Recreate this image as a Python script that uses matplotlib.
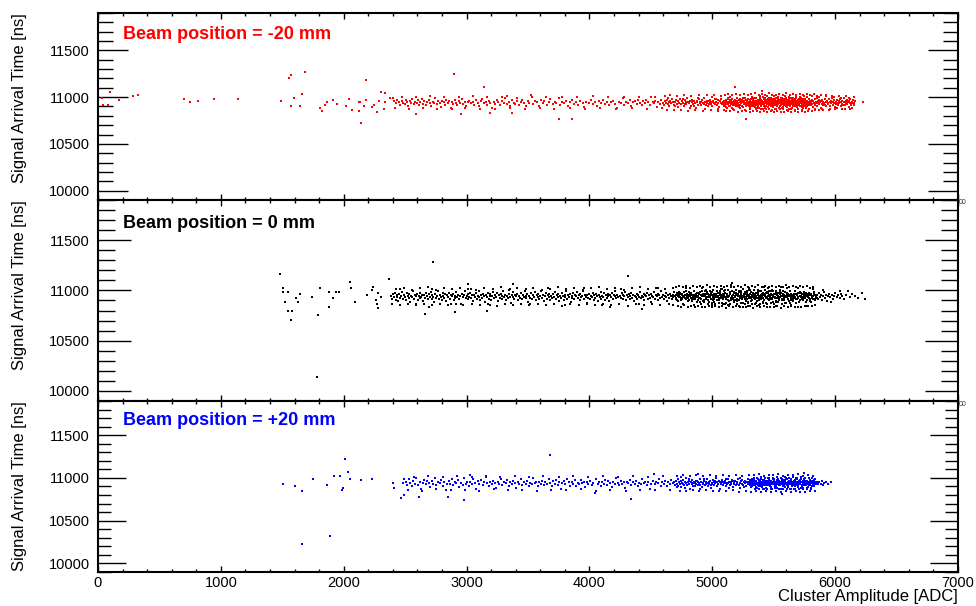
import matplotlib.pyplot as plt
from matplotlib.ticker import MultipleLocator

# (Cluster Amplitude [ADC], Signal Arrival Time [ns])
red_points = [
    (0,10970),(30,10990),(43,10918),(79,10918),(95,11057),(174,10968),(282,11011),(323,11025),
    (697,10979),(751,10947),(814,10957),(944,10975),(1137,10975),(1142,10980),(1490,10954),(1555,11200),
    (1573,11232),(1682,11267),(1595,10990),(1571,10907),(1644,10907),(1663,11036),(1804,10882),(1823,10854),
    (1848,10914),(1866,10946),(1915,10968),(1943,10928),(2021,10907),(2043,10975),(2065,10857),(2124,10946),
    (2134,10946),(2124,10850),(2138,10718),(2179,11182),(2162,10907),(2184,10968),(2227,10896),(2249,10921),
    (2271,10846),(2288,10960),(2304,11053),(2334,11046),(2325,10871),(2334,10950),(2377,10990),(2398,10990),
    (2586,10815),(2898,11250),(3139,11110),(2952,10818),(3188,10832),(3332,11014),(3527,11028),(3368,10832),
    (3755,10761),(3861,10768),(5277,10765),(6230,10950),(5182,11104),(5402,11064),
    # 2400 - 3600
    (2410,10958),(2425,10932),(2438,10971),(2450,10945),(2462,10912),(2471,10960),(2485,10938),(2496,10925),
    (2508,10966),(2515,10948),(2527,10903),(2536,10955),(2548,10940),(2560,10978),(2569,10927),(2581,10951),
    (2594,10935),(2603,10968),(2615,10912),(2624,10945),(2636,10985),(2648,10930),(2657,10957),(2669,10921),
    (2680,10948),(2692,10969),(2703,10936),(2714,10905),(2726,10952),(2738,10940),(2747,10990),(2758,10926),
    (2770,10958),(2781,10934),(2790,10898),(2802,10962),(2814,10945),(2825,10918),(2836,10972),(2847,10940),
    (2858,10955),(2870,10887),(2881,10948),(2893,10930),(2904,10965),(2915,10942),(2926,10915),(2938,10958),
    (2947,10936),(2960,10975),(2972,10925),(2985,10950),(2998,10904),(3010,10945),(3024,10963),(3037,10932),
    (3050,10952),(3062,10920),(3078,10968),(3090,10941),(3103,10910),(3117,10955),(3128,10982),(3142,10936),
    (3155,10948),(3168,10920),(3180,10962),(3194,10940),(3207,10885),(3220,10952),(3233,10930),(3247,10970),
    (3260,10945),(3273,10913),(3288,10958),(3301,10938),(3315,10995),(3328,10924),(3342,10950),(3355,10902),
    (3370,10966),(3384,10941),(3398,10928),(3411,10958),(3425,10915),(3440,10947),(3454,10970),(3468,10935),
    (3483,10908),(3497,10955),(3511,10940),(3540,10922),(3556,10962),(3571,10945),(3588,10910),(3603,10968),
    # 3600 - 4600
    (3620,10935),(3634,10958),(3652,10912),(3668,10947),(3683,10976),(3700,10925),(3716,10952),(3731,10938),
    (3749,10990),(3764,10915),(3780,10950),(3795,10932),(3812,10962),(3828,10905),(3845,10944),(3861,10972),
    (3878,10928),(3894,10950),(3910,10918),(3927,10958),(3944,10940),(3960,10897),(3976,10953),(3993,10932),
    (4010,10965),(4027,10922),(4044,10946),(4061,10908),(4078,10958),(4095,10937),(4112,10970),(4128,10925),
    (4145,10950),(4160,10915),(4176,10945),(4192,10962),(4208,10930),(4224,10880),(4240,10952),(4255,10940),
    (4270,10992),(4285,10918),(4300,10948),(4314,10932),(4328,10965),(4342,10903),(4356,10945),(4370,10958),
    (4384,10925),(4398,10974),(4412,10940),(4425,10912),(4438,10955),(4451,10932),(4464,10968),(4477,10945),
    (4490,10920),(4502,11005),(4514,10950),(4526,10935),(4538,10960),(4550,10898),(4562,10945),(4574,10930),
    (4586,10972),(4598,10940),
    # 4600 - 5100
    (4605,10918),(4612,10955),(4620,10940),(4628,10972),(4636,10925),(4644,10948),(4651,10903),(4658,10962),
    (4666,10935),(4673,10985),(4681,10950),(4688,10920),(4696,10945),(4703,10968),(4710,10930),(4718,10955),
    (4725,10890),(4733,10942),(4740,10975),(4747,10927),(4754,10958),(4762,10938),(4769,10910),(4776,10965),
    (4783,10946),(4790,10922),(4797,10990),(4804,10950),(4811,10932),(4818,10960),(4825,10905),(4832,10944),
    (4839,10972),(4845,10925),(4852,10955),(4858,10938),(4865,10880),(4872,10962),(4878,10945),(4885,10918),
    (4891,10978),(4898,10935),(4904,10952),(4911,10912),(4917,10965),(4923,10940),(4930,10928),(4936,10995),
    (4942,10947),(4948,10920),(4954,10960),(4960,10935),(4966,10900),(4972,10955),(4978,10943),(4984,10972),
    (4990,10925),(4996,10950),(5002,10910),(5008,10962),(5014,10938),(5020,10985),(5026,10930),(5032,10952),
    (5038,10918),(5044,10968),(5050,10942),(5056,10895),(5062,10958),(5068,10935),(5074,10975),(5080,10922),
    (5086,10948),(5092,10905),(5098,10962),(4640,10990),(4700,10900),(4760,10985),(4820,10880),(4880,10995),
    (4940,10870),(5000,11000),(5050,10870),(4720,10963),(4780,10930),(4850,10910),(4910,10948),(4970,10925),
    (5030,10978),(5090,10930),
    # 5100 - 5300
    (5100,10940),(5104,10912),(5108,10968),(5112,10930),(5116,10955),(5120,10885),(5124,10945),(5128,10975),
    (5132,10922),(5136,10950),(5140,10935),(5144,11002),(5148,10908),(5152,10960),(5156,10940),(5160,10925),
    (5164,10985),(5168,10948),(5172,10870),(5176,10932),(5180,10958),(5184,10915),(5188,10970),(5192,10942),
    (5196,10928),(5200,10995),(5204,10952),(5208,10905),(5212,10938),(5216,10965),(5220,10920),(5224,10948),
    (5228,10880),(5232,10972),(5236,10935),(5240,10958),(5244,10910),(5248,10945),(5252,10988),(5256,10926),
    (5260,10955),(5264,10940),(5268,10862),(5272,10967),(5276,10930),(5280,10950),(5284,10915),(5288,10978),
    (5292,10942),(5296,10900),(5102,10958),(5110,10895),(5118,10925),(5126,10990),(5134,10905),(5142,10965),
    (5150,10930),(5158,10880),(5166,10918),(5174,10962),(5182,10945),(5190,10900),(5198,10960),(5206,10928),
    (5214,10890),(5222,10982),(5230,10915),(5238,10945),(5246,10970),(5254,10898),(5262,10932),(5270,10990),
    (5278,10908),(5286,10955),(5294,10925),
    # 5300 - 5800
    (5300,10945),(5304,10918),(5308,10962),(5312,10930),(5316,10985),(5320,10908),(5324,10952),(5328,10938),
    (5332,10972),(5336,10920),(5340,10948),(5344,10895),(5348,10960),(5352,10935),(5356,10990),(5360,10915),
    (5364,10950),(5368,10928),(5372,10968),(5376,10942),(5380,10880),(5384,10955),(5388,10925),(5392,10975),
    (5396,10938),(5400,10910),(5404,10958),(5408,10945),(5412,11005),(5416,10922),(5420,10950),(5424,10902),
    (5428,10965),(5432,10932),(5436,10948),(5440,10870),(5444,10960),(5448,10928),(5452,10982),(5456,10940),
    (5460,10915),(5464,10955),(5468,10935),(5472,10972),(5476,10905),(5480,10945),(5484,10925),(5488,10962),
    (5492,10890),(5496,10950),(5500,10938),(5504,10978),(5508,10918),(5512,10955),(5516,10932),(5520,10995),
    (5524,10908),(5528,10948),(5532,10965),(5536,10925),(5540,10940),(5544,10882),(5548,10958),(5552,10935),
    (5556,10970),(5560,10912),(5564,10950),(5568,10928),(5572,10985),(5576,10945),(5580,10898),(5584,10960),
    (5588,10938),(5592,10920),(5596,10975),(5600,10948),(5604,10905),(5608,10955),(5612,10932),(5616,10968),
    (5620,10915),(5624,10945),(5628,10872),(5632,10960),(5636,10930),(5640,10988),(5644,10922),(5648,10950),
    (5652,10938),(5656,10965),(5660,10900),(5664,10945),(5668,10925),(5672,10978),(5676,10912),(5680,10952),
    (5684,10935),(5688,10962),(5692,10895),(5696,10948),(5700,10930),(5704,10970),(5708,10918),(5712,10955),
    (5716,10940),(5720,10990),(5724,10908),(5728,10945),(5732,10928),(5736,10965),(5740,10885),(5744,10952),
    (5748,10935),(5752,10975),(5756,10915),(5760,10948),(5764,10925),(5768,10960),(5772,10900),(5776,10942),
    (5780,10932),(5784,10980),(5788,10912),(5792,10950),(5796,10938),
    (5302,10925),(5306,10970),(5310,10892),(5314,10950),(5318,10935),(5322,10978),(5326,10915),(5330,10942),
    (5334,10905),(5338,10962),(5342,10928),(5346,10990),(5350,10948),(5354,10912),(5358,10955),(5362,10880),
    (5366,10938),(5370,10972),(5374,10920),(5378,10958),(5382,10932),(5386,10998),(5390,10945),(5394,10902),
    (5398,10968),(5402,10928),(5406,10952),(5410,10878),(5414,10940),(5418,10975),(5422,10915),(5426,10948),
    (5430,10990),(5434,10908),(5438,10958),(5442,10932),(5446,10965),(5450,10898),(5454,10945),(5458,10970),
    (5462,10925),(5466,10988),(5470,10950),(5474,10918),(5478,10962),(5482,10935),(5486,10905),(5490,10975),
    (5494,10928),(5498,10960),(5502,10912),(5506,10945),(5510,10870),(5514,10985),(5518,10938),(5522,10955),
    (5526,10920),(5530,10902),(5534,10978),(5538,10948),(5542,10932),(5546,10968),(5550,10910),(5554,10952),
    (5558,10925),(5562,10990),(5566,10942),(5570,10888),(5574,10960),(5578,10930),(5582,10972),(5586,10915),
    (5590,10955),(5594,10940),(5598,10995),(5602,10925),(5606,10968),(5610,10895),(5614,10948),(5618,10935),
    (5622,10975),(5626,10918),(5630,10942),(5634,10902),(5638,10960),(5642,10930),(5646,10882),(5650,10970),
    (5654,10920),(5658,10950),(5662,10985),(5666,10938),(5670,10910),(5674,10955),(5678,10928),(5682,10992),
    (5686,10945),(5690,10915),(5694,10965),(5698,10878),(5702,10940),(5706,10925),(5710,10975),(5714,10905),
    (5718,10950),(5722,10932),(5726,10968),(5730,10892),(5734,10945),(5738,10920),(5742,10985),(5746,10958),
    (5750,10910),(5754,10940),(5758,10972),(5762,10898),(5766,10948),(5770,10930),(5774,10962),(5778,10915),
    (5782,10950),(5786,10935),(5790,10870),(5794,10960),(5798,10925),
    # 5800 - 6160
    (5802,10945),(5806,10912),(5810,10968),(5815,10930),(5819,10955),(5824,10890),(5828,10942),(5833,10978),
    (5837,10920),(5842,10950),(5846,10935),(5851,10995),(5855,10908),(5860,10960),(5864,10938),(5869,10925),
    (5873,10972),(5878,10945),(5882,10880),(5887,10955),(5891,10930),(5896,10965),(5900,10915),(5905,10948),
    (5910,10936),(5915,10985),(5920,10920),(5925,10952),(5930,10902),(5935,10960),(5940,10940),(5945,10925),
    (5950,10975),(5955,10945),(5960,10910),(5965,10958),(5970,10932),(5975,10990),(5980,10918),(5985,10948),
    (5990,10938),(5995,10965),(6000,10895),(6005,10950),(6010,10928),(6015,10972),(6020,10942),(6025,10915),
    (6030,10958),(6035,10935),(6040,10982),(6045,10905),(6050,10950),(6055,10930),(6060,10962),(6065,10920),
    (6070,10945),(6075,10990),(6080,10912),(6085,10955),(6090,10938),(6095,10968),(6100,10925),(6105,10948),
    (6110,10898),(6115,10958),(6120,10935),(6125,10975),(6130,10918),(6135,10950),(6140,10932),(6145,10965),
    (6150,10940),(6155,10920),(6160,10955),(5812,11010),(5840,10868),(5868,11002),(5895,10875),(5925,11008),
    (5958,10870),(5990,11000),(6018,10880),(6048,10995),(6080,10872),(6110,10990),(6140,10885),
]

# points on the upper and lower edges of the red band
red_edge_points = [
    (2420,10880),(2475,11000),(2530,10872),(2590,11005),(2645,10885),(2700,11010),(2760,10878),(2815,10998),
    (2880,10868),(2935,11002),(2990,10882),(3050,11008),(3110,10875),(3170,10998),(3235,10870),(3290,11004),
    (3350,10885),(3410,10995),(3475,10872),(3530,11006),(3595,10880),(3650,11000),(3715,10868),(3775,11004),
    (3840,10885),(3900,10996),(3965,10874),(4030,11008),(4090,10880),(4150,11000),(4215,10870),(4280,11006),
    (4345,10884),(4405,10998),(4470,10872),(4530,11004),(4590,10880),
    (4615,11010),(4630,10862),(4660,11020),(4690,10858),(4715,11012),(4745,10866),(4772,11025),(4800,10855),
    (4830,11015),(4862,10862),(4895,11022),(4925,10850),(4958,11018),(4988,10860),(5015,11028),(5045,10855),
    (5075,11012),(5095,10865),
    (5105,11025),(5115,10855),(5130,11035),(5148,10848),(5162,11018),(5178,10858),(5195,11030),(5210,10845),
    (5226,11022),(5242,10852),(5258,11038),(5274,10850),(5290,11020),(5305,10842),(5318,11030),(5333,10855),
    (5348,11042),(5362,10848),(5377,11025),(5391,10840),(5405,11035),(5419,10852),(5433,11020),(5447,10845),
    (5461,11040),(5475,10855),(5489,11028),(5503,10842),(5517,11018),(5531,10850),(5545,11035),(5559,10846),
    (5573,11024),(5587,10838),(5601,11040),(5615,10852),(5629,11020),(5643,10845),(5657,11032),(5671,10855),
    (5685,11025),(5699,10840),(5713,11038),(5727,10850),(5741,11018),(5755,10846),(5769,11030),(5783,10855),
    (5797,11022),(5811,10848),(5825,11030),(5839,10858),(5853,11015),(5867,10862),(5885,11020),(5905,10860),
    (5930,11018),(5950,10865),(5978,11012),(6000,10868),(6028,11015),(6058,10870),(6088,11010),(6118,10872),
    (6150,11005),
    (5310,10870),(5325,11000),(5340,10990),(5355,10875),(5370,10898),(5385,11012),(5400,10868),(5415,10998),
    (5430,10885),(5445,11008),(5460,10872),(5475,10995),(5490,10862),(5505,11010),(5520,10878),(5535,11002),
    (5550,10868),(5565,10995),(5580,10875),(5595,11012),(5610,10862),(5625,11005),(5640,10878),(5655,10992),
    (5670,10865),(5685,11008),(5700,10872),(5715,10998),(5730,10862),(5745,11010),(5760,10880),(5775,10998),
    (5790,10868),
]

black_points = [
    (1481,11164),(1508,11020),(1508,10980),(1544,10980),(1522,10880),(1544,10800),(1579,10800),(1574,10703),
    (1612,10923),(1644,10967),(1631,10887),(1742,10937),(1807,11020),(1794,10753),(1783,10134),(1883,10837),
    (1878,10983),(1910,10927),(1934,10980),(1964,10980),(2051,11087),(2062,11023),(2095,10880),(2192,10950),
    (2227,11007),(2238,11037),(2262,10903),(2276,10970),(2268,10863),(2281,10823),(2369,11113),(2300,10930),
    (2728,11283),(2664,10763),(2697,10833),(2906,10783),(3166,10800),(3013,11060),(3375,11060),(4165,10837),
    (4312,11143),(5158,11070),(4431,10814),
    # 2380 - 3000
    (2385,10948),(2392,10915),(2400,10962),(2408,10930),(2415,10975),(2422,10905),(2430,10952),(2438,10938),
    (2445,10890),(2452,10966),(2460,10925),(2468,10945),(2475,10980),(2482,10918),(2490,10958),(2498,10935),
    (2505,10900),(2512,10970),(2520,10942),(2528,10922),(2535,10960),(2542,10885),(2550,10948),(2558,10930),
    (2565,10990),(2572,10912),(2580,10955),(2588,10940),(2595,10968),(2602,10908),(2610,10945),(2618,10925),
    (2625,10978),(2632,10935),(2640,10958),(2648,10895),(2655,10950),(2662,10920),(2670,10972),(2678,10942),
    (2685,10910),(2692,10962),(2700,10932),(2708,10985),(2715,10918),(2722,10952),(2730,10938),(2738,10880),
    (2745,10965),(2752,10928),(2760,10948),(2768,10995),(2775,10915),(2782,10958),(2790,10935),(2798,10902),
    (2805,10970),(2812,10945),(2820,10925),(2828,10962),(2835,10890),(2842,10950),(2850,10932),(2858,10978),
    (2865,10912),(2872,10955),(2880,10940),(2888,10968),(2895,10905),(2902,10948),(2910,10925),(2918,10985),
    (2925,10938),(2932,10958),(2940,10918),(2948,10945),(2955,10870),(2962,10965),(2970,10930),(2978,10952),
    (2985,10990),(2992,10922),
    # 3000 - 3700
    (3000,10945),(3008,10912),(3015,10962),(3022,10935),(3030,10978),(3038,10920),(3045,10950),(3052,10898),
    (3060,10958),(3068,10930),(3075,10972),(3082,10915),(3090,10948),(3098,10938),(3105,10990),(3112,10905),
    (3120,10955),(3128,10925),(3135,10965),(3142,10942),(3150,10882),(3158,10952),(3165,10932),(3172,10975),
    (3180,10918),(3188,10948),(3195,10960),(3202,10908),(3210,10940),(3218,10985),(3225,10922),(3232,10955),
    (3240,10935),(3248,10970),(3255,10895),(3262,10950),(3270,10928),(3278,10962),(3285,10912),(3292,10945),
    (3300,10998),(3308,10930),(3315,10958),(3322,10902),(3330,10948),(3338,10920),(3345,10968),(3352,10938),
    (3360,10875),(3368,10955),(3375,10932),(3382,10980),(3390,10915),(3398,10950),(3405,10940),(3412,10965),
    (3420,10900),(3428,10945),(3435,10925),(3442,10975),(3450,10910),(3458,10955),(3465,10935),(3472,10990),
    (3480,10920),(3488,10948),(3495,10962),(3502,10888),(3510,10942),(3518,10928),(3525,10970),(3532,10912),
    (3540,10952),(3548,10938),(3555,10982),(3562,10905),(3570,10958),(3578,10930),(3585,10965),(3592,10918),
    (3600,10945),(3608,10995),(3615,10925),(3622,10955),(3630,10895),(3638,10940),(3645,10972),(3652,10915),
    (3660,10950),(3668,10932),(3675,10968),(3682,10908),(3690,10948),
    # 3700 - 4700
    (3698,10925),(3705,10960),(3712,10938),(3720,10985),(3727,10912),(3734,10950),(3741,10930),(3748,10968),
    (3755,10898),(3762,10945),(3770,10922),(3777,10975),(3784,10940),(3791,10905),(3798,10958),(3805,10932),
    (3812,10990),(3820,10918),(3827,10952),(3834,10935),(3841,10965),(3848,10885),(3855,10948),(3862,10925),
    (3870,10972),(3877,10910),(3884,10955),(3891,10942),(3898,10980),(3905,10920),(3912,10950),(3920,10902),
    (3927,10962),(3934,10930),(3941,10945),(3948,10998),(3955,10915),(3962,10958),(3970,10938),(3977,10878),
    (3984,10952),(3991,10928),(3998,10968),(4005,10912),(4012,10945),(4020,10935),(4027,10975),(4034,10905),
    (4041,10950),(4048,10925),(4055,10962),(4062,10940),(4070,10892),(4077,10958),(4084,10930),(4091,10985),
    (4098,10918),(4105,10948),(4112,10938),(4120,10970),(4127,10908),(4134,10952),(4141,10925),(4148,10965),
    (4155,10942),(4162,10898),(4170,10955),(4177,10932),(4184,10978),(4191,10915),(4198,10950),(4205,10940),
    (4212,10992),(4220,10922),(4227,10958),(4234,10935),(4241,10868),(4248,10948),(4255,10928),(4262,10970),
    (4270,10912),(4277,10955),(4284,10940),(4291,10982),(4298,10905),(4305,10950),(4312,10930),(4320,10962),
    (4327,10918),(4334,10945),(4341,10975),(4348,10925),(4355,10958),(4362,10890),(4370,10942),(4377,10935),
    (4384,10968),(4391,10910),(4398,10952),(4405,10938),(4412,10988),(4420,10920),(4427,10948),(4434,10930),
    (4441,10965),(4448,10902),(4455,10955),(4462,10940),(4470,10975),(4477,10915),(4484,10950),(4491,10928),
    (4498,10960),(4505,10882),(4512,10945),(4520,10935),(4527,10980),(4534,10918),(4541,10955),(4548,10942),
    (4555,10968),(4562,10908),(4570,10950),(4577,10925),(4584,10990),(4591,10938),(4598,10958),(4605,10912),
    (4612,10945),(4620,10932),(4627,10972),(4634,10895),(4641,10952),(4648,10928),(4655,10965),(4662,10940),
    (4670,10918),(4677,10958),(4684,10935),(4691,10985),
    (2460,11010),(2590,10868),(2720,11015),(2870,10862),(3040,11012),(3190,10858),(3350,11018),(3520,10865),
    (3660,11020),(3800,10860),(3960,11025),(4100,10858),(4260,11018),(4400,10862),(4560,11022),(4680,10855),
    # 4700 - 5850
    (4700,10945),(4709,10918),(4718,10962),(4727,10930),(4736,10978),(4745,10905),(4754,10950),(4763,10938),
    (4772,10985),(4781,10920),(4790,10955),(4799,10892),(4808,10942),(4817,10968),(4826,10925),(4835,10958),
    (4844,10935),(4853,10995),(4862,10912),(4871,10948),(4880,10930),(4889,10972),(4898,10880),(4907,10952),
    (4916,10940),(4925,10965),(4934,10908),(4943,10945),(4952,10925),(4961,10982),(4970,10938),(4979,10958),
    (4988,10915),(4997,10950),(5006,10900),(5015,10968),(5024,10932),(5033,10945),(5042,10990),(5051,10922),
    (5060,10955),(5069,10940),(5078,10875),(5087,10962),(5096,10930),(5105,10975),(5114,10918),(5123,10950),
    (5132,10938),(5141,10968),(5150,10905),(5159,10945),(5168,10925),(5177,10985),(5186,10942),(5195,10958),
    (5204,10890),(5213,10952),(5222,10935),(5231,10972),(5240,10915),(5249,10948),(5258,10930),(5267,10965),
    (5276,10898),(5285,10955),(5294,10940),(5303,11000),(5312,10920),(5321,10950),(5330,10932),(5339,10962),
    (5348,10870),(5357,10945),(5366,10928),(5375,10978),(5384,10912),(5393,10952),(5402,10938),(5411,10970),
    (5420,10902),(5429,10948),(5438,10925),(5447,10988),(5456,10942),(5465,10958),(5474,10915),(5483,10950),
    (5492,10885),(5501,10962),(5510,10935),(5519,10975),(5528,10920),(5537,10948),(5546,10932),(5555,10965),
    (5564,10905),(5573,10945),(5582,10928),(5591,10982),(5600,10940),(5609,10955),(5618,10910),(5627,10950),
    (5636,10878),(5645,10968),(5654,10930),(5663,10945),(5672,10992),(5681,10918),(5690,10955),(5699,10938),
    (5708,10972),(5717,10900),(5726,10948),(5735,10925),(5744,10962),(5753,10940),(5762,10888),(5771,10958),
    (5780,10932),(5789,10975),(5798,10912),(5807,10950),(5816,10938),(5825,10965),(5834,10905),(5843,10945),
    (4703,10925),(4712,10970),(4721,10895),(4730,10950),(4739,10935),(4748,10962),(4757,10912),(4766,10945),
    (4775,10922),(4784,10990),(4793,10938),(4802,10958),(4811,10905),(4820,10948),(4829,10975),(4838,10918),
    (4847,10952),(4856,10932),(4865,10968),(4874,10885),(4883,10945),(4892,10925),(4901,10980),(4910,10915),
    (4919,10955),(4928,10940),(4937,10998),(4946,10928),(4955,10960),(4964,10902),(4973,10948),(4982,10935),
    (4991,10972),(5000,10918),(5009,10952),(5018,10880),(5027,10965),(5036,10930),(5045,10945),(5054,10905),
    (5063,10978),(5072,10925),(5081,10950),(5090,10938),(5099,10990),(5108,10912),(5117,10958),(5126,10935),
    (5135,10895),(5144,10962),(5153,10928),(5162,10948),(5171,10918),(5180,10970),(5189,10905),(5198,10952),
    (5207,10940),(5216,10982),(5225,10922),(5234,10958),(5243,10932),(5252,10875),(5261,10945),(5270,10985),
    (5279,10915),(5288,10950),(5297,10928),(5306,10965),(5315,10892),(5324,10942),(5333,10975),(5342,10920),
    (5351,10955),(5360,10935),(5369,10995),(5378,10908),(5387,10948),(5396,10925),(5405,10962),(5414,10882),
    (5423,10958),(5432,10940),(5441,10972),(5450,10910),(5459,10950),(5468,10930),(5477,10990),(5486,10922),
    (5495,10945),(5504,10935),(5513,10968),(5522,10898),(5531,10955),(5540,10925),(5549,10985),(5558,10942),
    (5567,10918),(5576,10962),(5585,10905),(5594,10948),(5603,10932),(5612,10975),(5621,10890),(5630,10945),
    (5639,10922),(5648,10958),(5657,10912),(5666,10965),(5675,10938),(5684,10875),(5693,10950),(5702,10928),
    (5711,10988),(5720,10935),(5729,10960),(5738,10905),(5747,10945),(5756,10920),(5765,10978),(5774,10940),
    (5783,10952),(5792,10895),(5801,10962),(5810,10925),(5819,10948),(5828,10980),(5837,10915),(5846,10935),
    (4706,10958),(4715,10902),(4724,10940),(4733,10988),(4742,10925),(4751,10968),(4760,10870),(4769,10932),
    (4778,10952),(4787,10910),(4796,10962),(4805,10928),(4814,10982),(4823,10945),(4832,10898),(4841,10958),
    (4850,10915),(4859,10950),(4868,10938),(4877,10975),(4886,10908),(4895,10960),(4904,10925),(4913,10990),
    (4922,10890),(4931,10945),(4940,10968),(4949,10912),(4958,10935),(4967,10962),(4976,10880),(4985,10948),
    (4994,10985),(5003,10930),(5012,10912),(5021,10958),(5030,10940),(5039,10902),(5048,10972),(5057,10928),
    (5066,10995),(5075,10945),(5084,10915),(5093,10955),(5102,10870),(5111,10932),(5120,10965),(5129,10900),
    (5138,10945),(5147,10985),(5156,10922),(5165,10958),(5174,10890),(5183,10938),(5192,10972),(5201,10918),
    (5210,10962),(5219,10905),(5228,10948),(5237,10990),(5246,10925),(5255,10960),(5264,10912),(5273,10938),
    (5282,10978),(5291,10880),(5300,10952),(5309,10930),(5318,10985),(5327,10908),(5336,10945),(5345,10918),
    (5354,10972),(5363,10890),(5372,10958),(5381,10935),(5390,10992),(5399,10912),(5408,10948),(5417,10928),
    (5426,10962),(5435,10875),(5444,10938),(5453,10978),(5462,10902),(5471,10945),(5480,10968),(5489,10915),
    (5498,10990),(5507,10925),(5516,10882),(5525,10952),(5534,10970),(5543,10900),(5552,10932),(5561,10978),
    (5570,10945),(5579,10915),(5588,10958),(5597,10878),(5606,10930),(5615,10965),(5624,10940),(5633,10995),
    (5642,10905),(5651,10948),(5660,10892),(5669,10925),(5678,10960),(5687,10910),(5696,10972),(5705,10888),
    (5714,10945),(5723,10978),(5732,10915),(5741,10932),(5750,10985),(5759,10952),(5768,10908),(5777,10968),
    (5786,10925),(5795,10958),(5804,10882),(5813,10940),(5822,10910),(5831,10972),(5840,10950),(5849,10922),
    (4790,11020),(4850,10860),(4920,11025),(5000,10852),(5080,11018),(5150,11030),(5220,10850),(5300,11028),
    (5380,10855),(5450,11022),(5520,10848),(5560,11030),(5640,10855),(5700,11020),(5760,10850),(5820,11012),
    (5290,10845),(5130,10855),(5420,11035),(5610,11025),
    # 5850 - 6250
    (5855,10950),(5862,10918),(5870,10975),(5878,10935),(5886,10958),(5893,10905),(5900,10945),(5910,10985),
    (5918,10925),(5926,10952),(5935,10895),(5944,10940),(5952,10968),(5962,10930),(5972,10955),(5982,10912),
    (5992,10948),(6002,10978),(6014,10935),(6025,10958),(6036,10925),(6048,10962),(6060,10940),(6075,10912),
    (6090,10952),(6108,10990),(6120,10935),(6138,10960),(6160,10942),(6185,10925),(6217,10973),(6244,10913),
    (5965,10880),(5905,11005),(6040,10995),
]

black_edge_points = [
    (2395,10870),(2425,11012),(2455,10858),(2490,11025),(2520,10865),(2555,11008),(2585,10852),(2620,11020),
    (2650,10870),(2685,11030),(2715,10858),(2750,11005),(2780,10866),(2815,11022),(2845,10855),(2880,11010),
    (2912,10868),(2945,11028),(2975,10852),(3010,11015),(3045,10870),(3078,11005),(3110,10858),(3145,11025),
    (3178,10864),(3212,11012),(3245,10850),(3280,11030),(3312,10868),(3345,11008),(3378,10855),(3412,11022),
    (3445,10866),(3480,11010),(3512,10852),(3545,11028),(3578,10870),(3612,11005),(3645,10858),(3680,11018),
    (3712,10862),(3745,11030),(3778,10850),(3812,11012),(3845,10868),(3878,11025),(3912,10855),(3945,11008),
    (3978,10865),(4012,11020),(4045,10852),(4078,11030),(4112,10868),(4145,11010),(4178,10856),(4212,11025),
    (4245,10862),(4278,11005),(4312,10850),(4345,11020),(4378,10866),(4412,11030),(4445,10855),(4478,11012),
    (4512,10868),(4545,11022),(4578,10852),(4612,11010),(4645,10862),(4678,11028),
    (4705,11035),(4718,10848),(4732,11045),(4746,10840),(4760,11030),(4774,10852),(4788,11040),(4802,10838),
    (4816,11028),(4830,10845),(4844,11048),(4858,10835),(4872,11032),(4886,10850),(4900,11042),(4914,10840),
    (4928,11030),(4942,10832),(4956,11050),(4970,10845),(4984,11035),(4998,10838),(5012,11045),(5026,10850),
    (5040,11032),(5054,10835),(5068,11048),(5082,10842),(5096,11030),(5110,10830),(5124,11040),(5138,10848),
    (5152,11052),(5166,10836),(5180,11035),(5194,10845),(5208,11045),(5222,10832),(5236,11030),(5250,10840),
    (5264,11050),(5278,10835),(5292,11038),(5306,10848),(5320,11045),(5334,10830),(5348,11032),(5362,10842),
    (5376,11050),(5390,10836),(5404,11035),(5418,10845),(5432,11045),(5446,10832),(5460,11030),(5474,10840),
    (5488,11048),(5502,10835),(5516,11036),(5530,10848),(5544,11045),(5558,10830),(5572,11032),(5586,10842),
    (5600,11050),(5614,10838),(5628,11035),(5642,10845),(5656,11042),(5670,10832),(5684,11030),(5698,10840),
    (5712,11045),(5726,10836),(5740,11032),(5754,10848),(5768,11040),(5782,10842),(5796,11028),(5810,10850),
    (5824,11035),(5838,10855),
    (4905,10870),(4920,10998),(4935,10880),(4950,11008),(4965,10868),(4980,10995),(4995,10875),(5010,11005),
    (5025,10865),(5040,10998),(5055,10878),(5070,11010),(5085,10870),(5100,11000),(5115,10875),(5130,11008),
    (5145,10865),(5160,10995),(5175,10880),(5190,11005),(5205,10868),(5220,10998),(5235,10875),(5250,11010),
    (5265,10870),(5280,10995),(5295,10878),(5310,11005),(5325,10865),(5340,11000),(5355,10872),(5370,11008),
    (5385,10868),(5400,10996),(5415,10878),(5430,11006),(5445,10866),(5460,10998),(5475,10875),(5490,11004),
    (5505,10870),(5520,10995),(5535,10880),(5550,11008),(5565,10868),(5580,10998),(5595,10875),
]

blue_points = [
    (1503,10930),(1606,10907),(1663,10844),(1663,10232),(1747,10988),(1864,10922),(1886,10318),(1918,11020),
    (1973,11020),(1984,10864),(1992,10880),(2007,11222),(2035,11070),(2051,10993),(2143,10973),(2228,10988),
    (2404,10946),(2412,10880),(2469,10766),(2491,10801),(2484,10946),(2494,10988),(2616,10778),(2846,10778),
    (2979,10743),(3028,11040),(3683,11269),(4336,10759),(4526,11047),(4884,11047),(5967,10953),(5749,11059),
    (5570,10809),(4043,10829),
    # 2500 - 3600
    (2505,10955),(2518,10920),(2530,10985),(2542,10940),(2555,10902),(2568,10962),(2580,10930),(2592,10995),
    (2605,10915),(2618,10950),(2630,10872),(2642,10938),(2655,10975),(2668,10925),(2680,10960),(2692,10945),
    (2705,10890),(2718,10968),(2730,10932),(2742,11005),(2755,10918),(2768,10955),(2780,10940),(2792,10980),
    (2805,10908),(2818,10948),(2830,10862),(2842,10925),(2855,10965),(2868,10935),(2880,10990),(2892,10912),
    (2905,10952),(2918,10938),(2930,10975),(2942,10895),(2955,10945),(2968,10920),(2980,10998),(2992,10932),
    (3005,10958),(3018,10905),(3030,10950),(3042,10928),(3055,10985),(3068,10940),(3080,10870),(3092,10962),
    (3105,10930),(3118,10975),(3130,10915),(3142,10950),(3155,11010),(3168,10938),(3180,10902),(3192,10958),
    (3205,10925),(3218,10968),(3230,10945),(3242,10885),(3255,10955),(3268,10932),(3280,10990),(3292,10918),
    (3305,10948),(3318,10938),(3330,10975),(3342,10900),(3355,10952),(3368,10928),(3380,10962),(3392,10942),
    (3405,10880),(3418,10958),(3430,10935),(3442,10985),(3455,10912),(3468,10950),(3480,10930),(3492,10968),
    (3505,10905),(3518,10945),(3530,10925),(3542,10995),(3555,10940),(3568,10958),(3580,10910),(3592,10948),
    # 3600 - 4700
    (3605,10935),(3618,10970),(3630,10912),(3642,10952),(3655,10928),(3668,10985),(3680,10945),(3692,10900),
    (3705,10960),(3718,10935),(3730,10975),(3742,10918),(3755,10950),(3768,10868),(3780,10940),(3792,10965),
    (3805,10925),(3818,10992),(3830,10948),(3842,10910),(3855,10958),(3868,10932),(3880,10972),(3892,10905),
    (3905,10945),(3918,10925),(3930,10980),(3942,10940),(3955,10955),(3968,10898),(3980,10950),(3992,10930),
    (4005,10968),(4018,10915),(4030,10942),(4055,10985),(4068,10928),(4080,10955),(4092,10908),(4105,10948),
    (4118,10935),(4130,10975),(4142,10920),(4155,10960),(4168,10940),(4180,10890),(4192,10952),(4205,10930),
    (4218,10995),(4230,10945),(4242,10912),(4255,10965),(4268,10932),(4280,10950),(4292,10882),(4305,10958),
    (4318,10938),(4330,10978),(4342,10920),(4355,10948),(4368,10930),(4380,10962),(4392,10905),(4405,10945),
    (4418,10928),(4430,10990),(4442,10940),(4455,10958),(4468,10918),(4480,10952),(4492,10865),(4505,10935),
    (4518,10970),(4530,10925),(4542,10950),(4555,10940),(4568,10985),(4580,10910),(4592,10958),(4605,10932),
    (4618,10965),(4630,10900),(4642,10948),(4655,10925),(4668,10975),(4680,10938),(4692,10955),
    # 4700 - 5300
    (4700,10915),(4706,10962),(4712,10935),(4718,10985),(4724,10908),(4730,10950),(4736,10928),(4742,10968),
    (4748,10890),(4754,10945),(4760,10930),(4766,10975),(4772,10918),(4778,10955),(4784,10940),(4790,10998),
    (4796,10912),(4802,10948),(4808,10932),(4814,10965),(4820,10875),(4826,10952),(4832,10925),(4838,10980),
    (4844,10940),(4850,10958),(4856,10905),(4862,10945),(4868,10928),(4874,10970),(4880,10915),(4886,10952),
    (4892,10938),(4898,10990),(4904,10922),(4910,10958),(4916,10898),(4922,10942),(4928,10930),(4934,10968),
    (4940,10912),(4946,10950),(4952,10935),(4958,10982),(4964,10905),(4970,10948),(4976,10925),(4982,10962),
    (4988,10885),(4994,10945),(5000,10932),(5006,10975),(5012,10918),(5018,10955),(5024,10940),(5030,10995),
    (5036,10910),(5042,10948),(5048,10928),(5054,10965),(5060,10870),(5066,10952),(5072,10935),(5078,10978),
    (5084,10915),(5090,10950),(5096,10938),(5102,10968),(5108,10902),(5114,10945),(5120,10925),(5126,10985),
    (5132,10940),(5138,10958),(5144,10912),(5150,10950),(5156,10930),(5162,10972),(5168,10895),(5174,10948),
    (5180,10935),(5186,10962),(5192,10918),(5198,10955),(5204,10940),(5210,10990),(5216,10922),(5222,10945),
    (5228,10880),(5234,10965),(5240,10932),(5246,10975),(5252,10912),(5258,10952),(5264,10938),(5270,10968),
    (5276,10905),(5282,10948),(5288,10928),(5294,10982),
    (4715,10895),(4745,11010),(4780,10888),(4810,10982),(4840,10900),(4870,10960),(4900,10868),(4930,10985),
    (4960,10940),(4990,10915),(5020,10970),(5050,10925),(5080,10948),(5110,10985),(5140,10878),(5170,10960),
    (5200,10925),(5230,11005),(5260,10890),(5290,10945),
    # 5300 - 5850
    (5300,10948),(5305,10912),(5310,10965),(5315,10930),(5320,10985),(5325,10905),(5330,10952),(5335,10938),
    (5340,10972),(5345,10920),(5350,10955),(5355,10890),(5360,10945),(5365,10928),(5370,10990),(5375,10915),
    (5380,10958),(5385,10940),(5390,10968),(5395,10902),(5400,10948),(5405,10932),(5410,10978),(5415,10912),
    (5420,10955),(5425,10875),(5430,10942),(5435,10965),(5440,10925),(5445,10950),(5450,10938),(5455,10995),
    (5460,10918),(5465,10952),(5470,10930),(5475,10970),(5480,10898),(5485,10945),(5490,10925),(5495,10982),
    (5500,10940),(5505,10960),(5510,10908),(5515,10950),(5520,10932),(5525,10975),(5530,10885),(5535,10948),
    (5540,10922),(5545,10968),(5550,10940),(5555,10912),(5560,10958),(5565,10935),(5570,10990),(5575,10920),
    (5580,10952),(5585,10938),(5590,10972),(5595,10895),(5600,10945),(5605,10928),(5610,10985),(5615,10915),
    (5620,10955),(5625,10940),(5630,10870),(5635,10962),(5640,10930),(5645,10978),(5650,10918),(5655,10950),
    (5660,10935),(5665,10968),(5670,10902),(5675,10945),(5680,10925),(5685,10998),(5690,10940),(5695,10958),
    (5700,10910),(5705,10950),(5710,10932),(5715,10975),(5720,10888),(5725,10948),(5730,10922),(5735,10965),
    (5740,10940),(5745,10985),(5750,10915),(5755,10952),(5760,10935),(5765,10970),(5770,10878),(5775,10945),
    (5780,10928),(5785,10995),(5790,10912),(5795,10955),(5800,10938),(5805,10962),(5810,10905),(5815,10948),
    (5820,10930),(5825,10975),(5830,10920),(5835,10952),(5840,10940),
    (5302,10925),(5307,10972),(5312,10895),(5317,10950),(5322,10938),(5327,10968),(5332,10912),(5337,10955),
    (5342,11000),(5347,10930),(5352,10918),(5357,10962),(5362,10880),(5367,10945),(5372,10935),(5377,10978),
    (5382,10905),(5387,10952),(5392,10925),(5397,10988),(5402,10940),(5407,10898),(5412,10958),(5417,10930),
    (5422,10972),(5427,10915),(5432,10948),(5437,10882),(5442,10962),(5447,10920),(5452,10955),(5457,10938),
    (5462,10980),(5467,10908),(5472,10945),(5477,10928),(5482,10965),(5487,10868),(5492,10950),(5497,10932),
    (5502,10992),(5507,10918),(5512,10958),(5517,10940),(5522,10900),(5527,10968),(5532,10925),(5537,10985),
    (5542,10945),(5547,10912),(5552,10952),(5557,10875),(5562,10935),(5567,10962),(5572,10905),(5577,10948),
    (5582,10978),(5587,10920),(5592,10955),(5597,10930),(5602,10995),(5607,10912),(5612,10945),(5617,10890),
    (5622,10968),(5627,10925),(5632,10950),(5637,10938),(5642,10982),(5647,10902),(5652,10958),(5657,10918),
    (5662,10945),(5667,10872),(5672,10972),(5677,10932),(5682,10955),(5687,10912),(5692,10985),(5697,10940),
    (5702,10895),(5707,10962),(5712,10925),(5717,10948),(5722,10990),(5727,10908),(5732,10952),(5737,10885),
    (5742,10935),(5747,10968),(5752,10928),(5757,11005),(5762,10945),(5767,10915),(5772,10960),(5777,10898),
    (5782,10950),(5787,10935),(5792,10975),(5797,10920),(5802,10942),(5807,10882),(5812,10965),(5817,10930),
    (5822,10955),(5827,10910),(5832,10948),(5837,10985),(5842,10925),(5847,10940),
    # tail
    (5855,10955),(5862,10925),(5872,10948),(5882,10935),(5895,10962),(5910,10940),(5925,10958),(5940,10935),
    (5900,10915),
]

blue_edge_points = [
    (2520,10860),(2575,11015),(2635,10850),(2690,11020),(2750,10865),(2810,11010),(2870,10855),(2925,11025),
    (2985,10862),(3045,11012),(3100,10850),(3160,11022),(3220,10866),(3275,11008),(3335,10855),(3395,11020),
    (3450,10860),(3510,11015),(3570,10852),(3625,11025),(3690,10862),(3750,11010),(3810,10855),(3870,11022),
    (3930,10865),(3990,11012),(4050,10850),(4110,11020),(4170,10860),(4235,11015),(4295,10852),(4355,11025),
    (4415,10862),(4475,11010),(4535,10855),(4600,11022),(4660,10860),
    (4710,11025),(4735,10852),(4760,11030),(4785,10845),(4815,11022),(4840,10858),(4865,11035),(4895,10848),
    (4925,11020),(4950,10855),(4978,11032),(5005,10842),(5032,11025),(5058,10852),(5085,11038),(5112,10845),
    (5138,11022),(5165,10855),(5192,11035),(5218,10840),(5245,11025),(5272,10850),(5298,11040),(5318,10838),
    (5338,11030),(5358,10845),(5378,11042),(5398,10835),(5418,11025),(5438,10848),(5458,11040),(5478,10838),
    (5498,11030),(5518,10845),(5538,11045),(5558,10835),(5578,11028),(5598,10842),(5618,11040),(5638,10838),
    (5658,11030),(5678,10845),(5698,11042),(5718,10835),(5738,11025),(5758,10840),(5778,11038),(5798,10848),
    (5818,11028),(5838,10852),
    (5352,10870),(5368,11002),(5384,10875),(5400,11008),(5416,10865),(5432,10998),(5448,10872),(5464,11005),
    (5480,10868),(5496,10995),(5512,10878),(5528,11008),(5544,10865),(5560,11000),(5576,10872),(5592,11006),
    (5608,10868),(5624,10996),(5640,10876),(5656,11008),(5672,10866),(5688,11000),(5704,10874),(5720,11006),
    (5736,10868),(5752,10998),(5768,10875),(5784,11005),(5800,10870),(5816,10995),
]

titles = ['Beam position = -20 mm', 'Beam position = 0 mm', 'Beam position = +20 mm']
colours = ['#ff0000', '#000000', '#0000ff']
x_ticks = [0, 1000, 2000, 3000, 4000, 5000, 6000, 7000]
y_ticks = [10000, 10500, 11000, 11500]

plt.rcParams['font.family'] = ['Liberation Sans', 'DejaVu Sans']

fig = plt.figure(figsize=(9.76, 6.06), dpi=100)

# pad rectangles in figure fraction (ROOT-like stacked pads)
rects = [[0.1004, 0.6700, 0.8811, 0.3086],
         [0.1004, 0.3383, 0.8811, 0.3317],
         [0.1004, 0.0561, 0.8811, 0.2822]]
# y tick lengths (points) differ from pad to pad like in ROOT
ylen = [(21.5, 11.0), (23.5, 12.0), (20.0, 9.5)]

series = [red_points + red_edge_points,
          black_points + black_edge_points,
          blue_points + blue_edge_points]

axes = []
for i, pts in enumerate(series):
    ax = fig.add_axes(rects[i])
    amp = [p[0] for p in pts]
    tim = [p[1] for p in pts]
    ax.plot(amp, tim, ls='none', marker='s', ms=1.8, mew=0, color=colours[i])

    ax.set_xlim(0, 7000)
    ax.set_ylim(9900, 11900)
    ax.set_xticks(x_ticks)
    ax.set_yticks(y_ticks)
    ax.xaxis.set_minor_locator(MultipleLocator(200))
    ax.yaxis.set_minor_locator(MultipleLocator(100))
    ax.tick_params(axis='both', which='both', direction='in', top=True, right=True, width=1.0)
    ax.tick_params(axis='x', which='major', length=4.5, labelsize=10.5, pad=3)
    ax.tick_params(axis='x', which='minor', length=2.3)
    ax.tick_params(axis='y', which='major', length=ylen[i][0], labelsize=10.5, pad=6)
    ax.tick_params(axis='y', which='minor', length=ylen[i][1])
    if i < 2:
        ax.tick_params(axis='x', labelbottom=False)
    for s in ax.spines.values():
        s.set_linewidth(1.5)

    ax.text(0.029, 0.885, titles[i], transform=ax.transAxes, color=colours[i],
            fontsize=13, fontweight='bold', ha='left', va='center')
    ax.text(-0.0915, 1.0, 'Signal Arrival Time [ns]', transform=ax.transAxes,
            rotation=90, fontsize=12, ha='center', va='top')
    axes.append(ax)

axes[2].text(1.0, -0.145, 'Cluster Amplitude [ADC]', transform=axes[2].transAxes,
             fontsize=12, ha='right', va='center')

# clipped labels at the right pad edges
fig.text(959 / 976, 1 - 203 / 606, '00', fontsize=5, color='#333333', va='center')
fig.text(959 / 976, 1 - 405 / 606, '00', fontsize=5, color='#333333', va='center')

fig.savefig('out.png', dpi=100)
